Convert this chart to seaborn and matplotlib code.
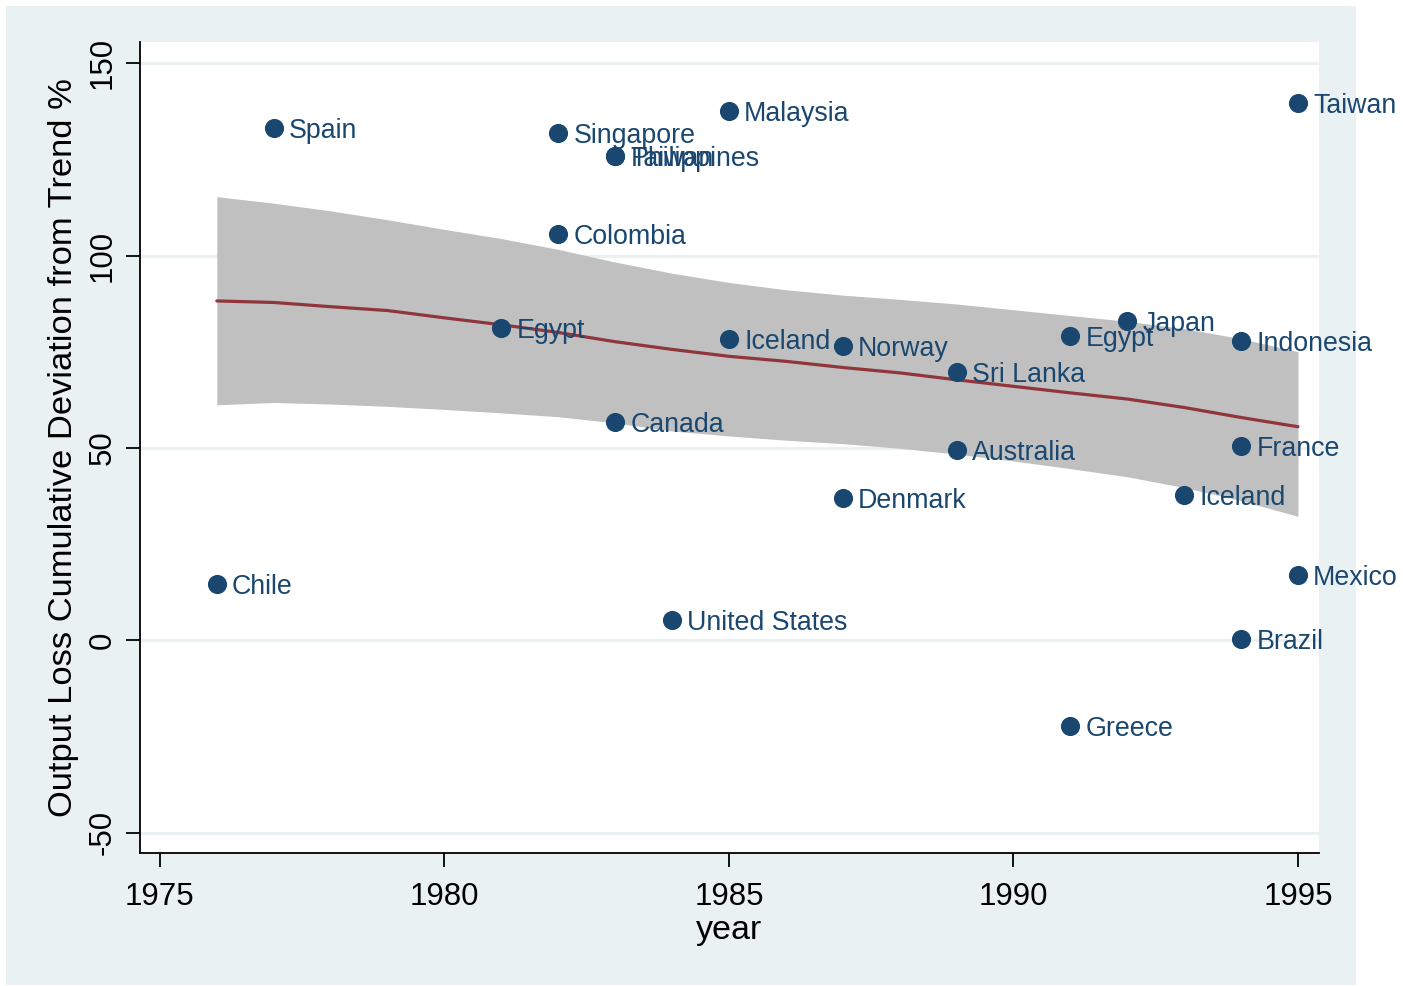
import matplotlib
matplotlib.use("Agg")
import matplotlib.pyplot as plt
import seaborn as sns
import pandas as pd
from matplotlib.patches import Rectangle

# ---- data ----
countries = ["Chile", "Spain", "Egypt", "Singapore", "Colombia", "Philippines", "Taiwan",
             "Canada", "United States", "Malaysia", "Iceland", "Norway", "Denmark",
             "Sri Lanka", "Australia", "Egypt", "Greece", "Japan", "Iceland",
             "Indonesia", "France", "Brazil", "Taiwan", "Mexico"]
years = [1976, 1977, 1981, 1982, 1982, 1983, 1983, 1983, 1984, 1985, 1985, 1987, 1987,
         1989, 1989, 1991, 1991, 1992, 1993, 1994, 1994, 1994, 1995, 1995]
loss = [14.6, 133.1, 81.1, 131.8, 105.5, 125.8, 125.8, 56.7, 5.2, 137.5, 78.2, 76.4, 36.9,
        69.7, 49.4, 79.0, -22.4, 82.9, 37.7, 77.7, 50.4, 0.3, 139.6, 16.9]

fit_years = [1976, 1977, 1978, 1979, 1980, 1981, 1982, 1983, 1984, 1985,
             1986, 1987, 1988, 1989, 1990, 1991, 1992, 1993, 1994, 1995]
fit_mid = [88.2, 87.8, 86.7, 85.7, 83.8, 82.0, 80.0, 77.6, 75.6, 73.8,
           72.5, 70.9, 69.5, 67.7, 66.0, 64.3, 62.7, 60.5, 57.9, 55.5]
fit_hi = [115.3, 113.6, 111.6, 109.3, 106.8, 104.4, 101.6, 98.3, 95.4, 93.0,
          91.1, 89.7, 88.6, 87.4, 85.9, 84.4, 82.9, 81.0, 78.4, 75.0]
fit_lo = [61.2, 61.8, 61.4, 60.8, 60.0, 59.1, 58.1, 56.5, 54.4, 53.1,
          52.0, 51.1, 49.9, 48.4, 46.6, 44.6, 42.5, 39.7, 36.3, 32.2]

x_ticks = [1975, 1980, 1985, 1990, 1995]
y_ticks = [-50, 0, 50, 100, 150]

NAVY = "#1A476F"
MAROON = "#90353B"
BG = "#EAF1F3"

sns.set_theme(style="white")
plt.rcParams["font.family"] = ["Liberation Sans", "DejaVu Sans"]

fig = plt.figure(figsize=(14.03, 9.86), dpi=100)
fig.patch.set_facecolor("white")
fig.add_artist(Rectangle((6 / 1403, 1 - 985 / 986), 1350 / 1403, 979 / 986,
                         transform=fig.transFigure, facecolor=BG, edgecolor="none", zorder=0))

ax = fig.add_axes([140 / 1403, 1 - 853 / 986, 1179 / 1403, 811 / 986])
ax.set_facecolor("white")

for yt in y_ticks:
    ax.axhline(yt, color=BG, lw=2.2, zorder=0.5)

df_fit = pd.DataFrame({"year": fit_years, "mid": fit_mid, "lo": fit_lo, "hi": fit_hi})
ax.fill_between(df_fit["year"], df_fit["lo"], df_fit["hi"], color="#C0C0C0", lw=0, zorder=1)
sns.lineplot(data=df_fit, x="year", y="mid", color=MAROON, lw=2.3, ax=ax, zorder=2)

df = pd.DataFrame({"country": countries, "year": years, "loss": loss})
sns.scatterplot(data=df, x="year", y="loss", color=NAVY, s=190, edgecolor=NAVY,
                linewidth=0, ax=ax, zorder=3)
for c, x, y in zip(df["country"], df["year"], df["loss"]):
    ax.annotate(c, (x, y), xytext=(11, -2.2), textcoords="offset points",
                ha="left", va="center", color=NAVY, fontsize=19.3, zorder=4)

ax.set_xlim(1974.65, 1995.37)
ax.set_ylim(-55.3, 155.5)
ax.set_xticks(x_ticks)
ax.set_yticks(y_ticks)
ax.set_xticklabels([str(t) for t in x_ticks], fontsize=22.5, color="black")
ax.set_yticklabels([str(t) for t in y_ticks], fontsize=22.5, rotation=90, va="center",
                   color="black")
ax.tick_params(axis="both", which="major", length=10, width=1.3, color="black",
               direction="out", bottom=True, left=True)
ax.tick_params(axis="x", pad=11)
ax.tick_params(axis="y", pad=6)
ax.set_xlabel("year", fontsize=24.5, labelpad=2, color="black")
ax.set_ylabel("Output Loss Cumulative Deviation from Trend %", fontsize=24.8,
              labelpad=6, color="black")

for s in ["top", "right"]:
    ax.spines[s].set_visible(False)
for s in ["left", "bottom"]:
    ax.spines[s].set_color("black")
    ax.spines[s].set_linewidth(1.3)

fig.savefig("out.png", dpi=100, facecolor=fig.get_facecolor())
